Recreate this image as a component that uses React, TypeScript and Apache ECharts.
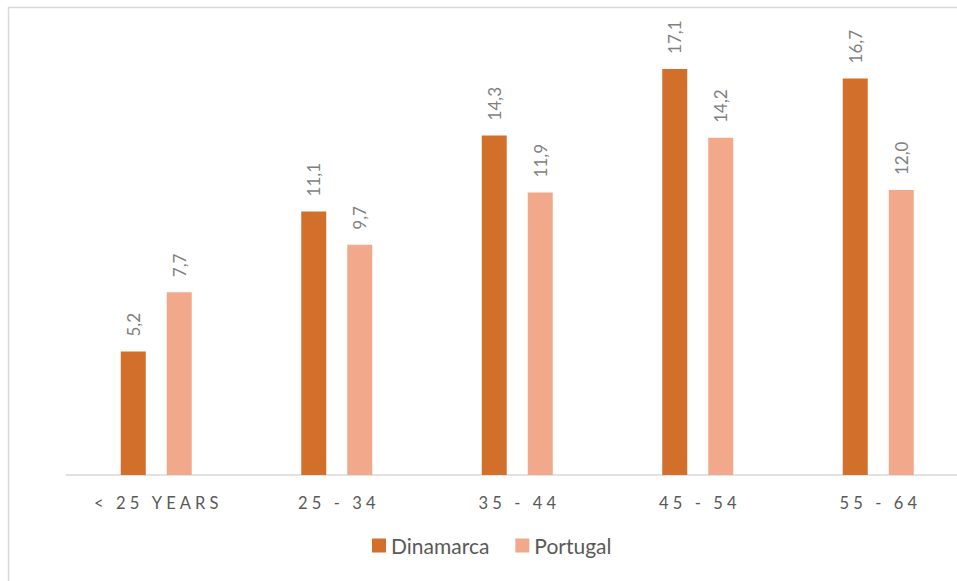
import React, { useEffect, useRef } from "react";
import * as echarts from "echarts";

const categories = ["< 25 YEARS", "25 - 34", "35 - 44", "45 - 54", "55 - 64"];
const dinamarca = [5.2, 11.1, 14.3, 17.1, 16.7];
const portugal = [7.7, 9.7, 11.9, 14.2, 12.0];

const spaced = (s: string) => s.split("").join("\u2005");
const fmt = (v: number) => v.toFixed(1).replace(".", ",");

export default function App() {
  const ref = useRef<HTMLDivElement>(null);
  useEffect(() => {
    if (!ref.current) return;
    const chart = echarts.init(ref.current, null, { renderer: "svg" });
    const font = "Lato, 'Noto Sans', sans-serif";
    const label = {
      show: true,
      position: "top",
      rotate: 90,
      align: "left",
      verticalAlign: "middle",
      distance: 15,
      color: "#7f7f7f",
      fontSize: 17,
      fontFamily: font,
      formatter: (p: any) => fmt(p.value),
    };
    chart.setOption({
      animation: false,
      graphic: [
        {
          type: "rect",
          shape: { x: 8.5, y: 7.5, width: 990, height: 620 },
          style: { fill: "none", stroke: "#d9d9d9", lineWidth: 1.5 },
          silent: true,
        },
      ],
      legend: {
        data: ["Dinamarca", "Portugal"],
        top: 530,
        left: 367,
        itemWidth: 14,
        itemHeight: 14,
        itemGap: 26,
        icon: "rect",
        textStyle: { color: "#595959", fontSize: 21, fontFamily: font },
      },
      grid: { left: 66, width: 902.5, top: 47.5, bottom: 106, containLabel: false },
      xAxis: {
        type: "category",
        data: categories,
        axisLine: { lineStyle: { color: "#d9d9d9", width: 1.5 } },
        axisTick: { show: false },
        axisLabel: {
          color: "#595959",
          fontSize: 16.5,
          fontFamily: font,
          margin: 19,
          formatter: (v: string) => spaced(v),
        },
      },
      yAxis: {
        type: "value",
        min: 0,
        max: 18,
        show: false,
        splitLine: { show: false },
      },
      series: [
        {
          name: "Dinamarca",
          type: "bar",
          data: dinamarca,
          barWidth: 25,
          barGap: "84%",
          itemStyle: { color: "#D2702B" },
          label,
        },
        {
          name: "Portugal",
          type: "bar",
          data: portugal,
          barWidth: 25,
          itemStyle: { color: "#F2A88A" },
          label,
        },
      ],
    });
    return () => chart.dispose();
  }, []);
  return (
    <div
      ref={ref}
      style={{ position: "absolute", left: 0, top: 0, width: 980, height: 581 }}
    />
  );
}
